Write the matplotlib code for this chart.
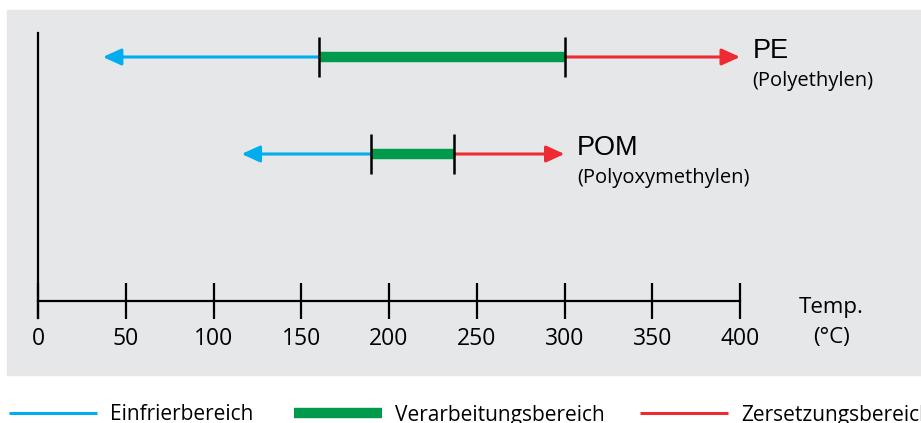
import matplotlib.pyplot as plt

# Temperature ranges (deg C)
materials = ["PE", "POM"]
full_names = ["(Polyethylen)", "(Polyoxymethylen)"]
freeze_min = [37, 116]
proc_start = [160, 190]
proc_end = [300, 237]
decomp_max = [400, 300]

ticks = [0, 50, 100, 150, 200, 250, 300, 350, 400]
legend_labels = ["Einfrierbereich", "Verarbeitungsbereich", "Zersetzungsbereich"]

blue = "#00adef"
green = "#009a4d"
red = "#ee2a33"
text_font = ["Open Sans", "DejaVu Sans"]

W, H = 921, 423
fig = plt.figure(figsize=(W / 100, H / 100), dpi=100)

# overlay in pixel units for background and legend
bg = fig.add_axes([0, 0, 1, 1])
bg.set_xlim(0, W)
bg.set_ylim(H, 0)
bg.axis("off")
bg.add_patch(plt.Rectangle((7, 10), W - 7, 365, color="#e6e7e8", zorder=0))

lw_list = [2.2, 7.5, 2.2]
col_list = [blue, green, red]
lx = [9, 294, 640]
for x0, lab, c, lw in zip(lx, legend_labels, col_list, lw_list):
    bg.plot([x0, x0 + 88], [413, 413], color=c, lw=lw, solid_capstyle="butt")
    bg.text(x0 + 101, 415, lab, fontsize=15, family=text_font, va="center", ha="left")

# main chart, x in deg C, y in pixel rows
ax = fig.add_axes([38 / W, 0, 702 / W, 1])
ax.set_xlim(0, 400)
ax.set_ylim(H, 0)
ax.patch.set_visible(False)
for s in ["top", "right"]:
    ax.spines[s].set_visible(False)
ax.spines["bottom"].set_position(("data", 301))
ax.spines["bottom"].set_bounds(0, 400)
ax.spines["left"].set_position(("data", 0))
ax.spines["left"].set_bounds(33, 318)
for s in ["bottom", "left"]:
    ax.spines[s].set_linewidth(1.6)
ax.set_yticks([])
ax.set_xticks(ticks)
ax.set_xticklabels([str(t) for t in ticks], family=text_font, fontsize=16.5)
ax.tick_params(axis="x", direction="inout", length=26, width=1.6, pad=6)

ax.text(452, 307, "Temp.", fontsize=16, family=text_font, ha="center", va="center")
ax.text(452, 338, "(°C)", fontsize=16, family=text_font, ha="center", va="center")

rows = [57, 154]
for i, y in enumerate(rows):
    ax.annotate("", xy=(freeze_min[i], y), xytext=(proc_start[i], y),
                arrowprops=dict(arrowstyle="-|>,head_length=0.55,head_width=0.25",
                                color=blue, lw=2.2, shrinkA=0, shrinkB=0,
                                mutation_scale=20))
    ax.annotate("", xy=(decomp_max[i], y), xytext=(proc_end[i], y),
                arrowprops=dict(arrowstyle="-|>,head_length=0.55,head_width=0.25",
                                color=red, lw=2.2, shrinkA=0, shrinkB=0,
                                mutation_scale=20))
    ax.plot([proc_start[i], proc_end[i]], [y, y], color=green, lw=7.5,
            solid_capstyle="butt", zorder=3)
    ax.vlines([proc_start[i], proc_end[i]], y - 20, y + 20, color="black",
              lw=1.8, zorder=4)
    ax.annotate(materials[i], xy=(decomp_max[i], y), xytext=(9, -1),
                textcoords="offset points", fontsize=19.5,
                family="Liberation Sans", ha="left", va="baseline")
    ax.annotate(full_names[i], xy=(decomp_max[i], y), xytext=(9, -17.5),
                textcoords="offset points", fontsize=14.5,
                family=text_font, ha="left", va="center")

fig.savefig("out.png", dpi=100)
